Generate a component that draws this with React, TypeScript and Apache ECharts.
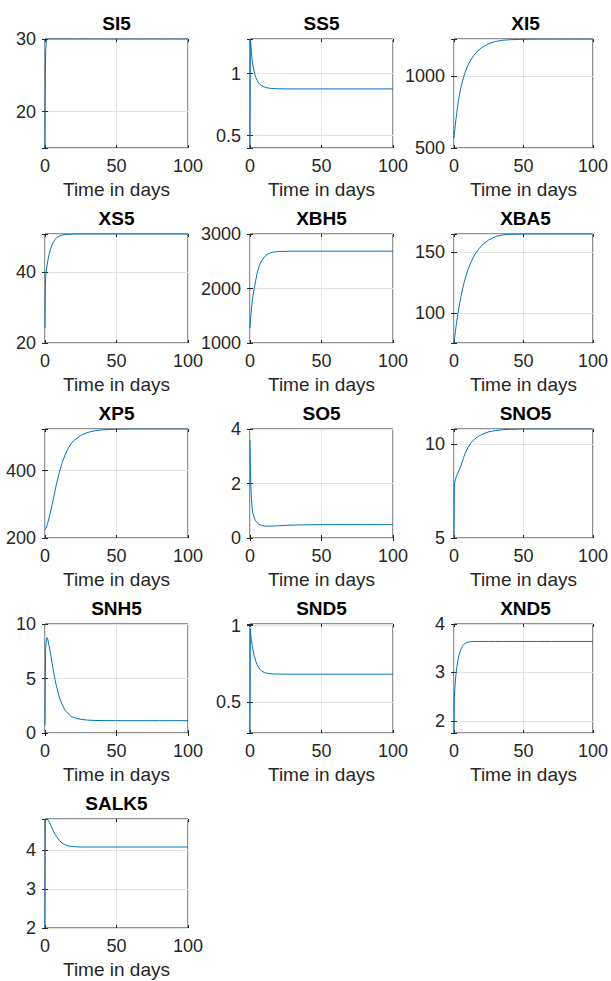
import React, { useEffect, useRef } from 'react';
import * as echarts from 'echarts';

// Simulation output sampled at these times (days)
const timeDays = [0, 0.25, 0.5, 1, 1.5, 2, 3, 4, 5, 6, 7, 8, 10, 12, 14, 16, 18, 20, 25, 30, 35, 40, 50, 60, 70, 80, 90, 100];

const SI5 = [15, 25, 28.5, 29.7, 29.95, 30, 30, 30, 30, 30, 30, 30, 30, 30, 30, 30, 30, 30, 30, 30, 30, 30, 30, 30, 30, 30, 30, 30];
const SS5 = [0.4, 1.28, 1.25, 1.17, 1.11, 1.07, 1.01, 0.97, 0.945, 0.925, 0.913, 0.905, 0.893, 0.886, 0.882, 0.88, 0.879, 0.878, 0.877, 0.877, 0.877, 0.877, 0.877, 0.877, 0.877, 0.877, 0.877, 0.877];
const XI5 = [569, 595, 620, 665, 705, 745, 815, 872, 920, 960, 995, 1025, 1075, 1110, 1140, 1163, 1182, 1198, 1225, 1240, 1248, 1252, 1255, 1256, 1256, 1256, 1256, 1256];
const XS5 = [24.2, 36.5, 38.8, 40.6, 42.0, 43.3, 45.2, 46.6, 47.7, 48.5, 49.1, 49.6, 50.1, 50.4, 50.55, 50.62, 50.66, 50.68, 50.7, 50.7, 50.7, 50.7, 50.7, 50.7, 50.7, 50.7, 50.7, 50.7];
const XBH5 = [1275, 1380, 1470, 1620, 1750, 1860, 2010, 2150, 2280, 2380, 2450, 2500, 2580, 2625, 2650, 2665, 2673, 2678, 2683, 2685, 2685, 2685, 2685, 2685, 2685, 2685, 2685, 2685];
const XBA5 = [75.4, 77.9, 80.2, 84.8, 89.1, 93.2, 100.7, 107.5, 113.5, 118.9, 123.7, 128.1, 135.4, 141.2, 145.9, 149.7, 152.7, 155.5, 160.0, 162.8, 164.0, 164.5, 164.75, 164.8, 164.8, 164.8, 164.8, 164.8];
const XP5 = [224.5, 226, 228, 233, 239, 246, 262, 280, 299, 319, 340, 359, 394, 423, 446, 464, 478, 488, 504, 513, 518, 520.5, 522.5, 523, 523, 523, 523, 523];
const SO5 = [3.6, 2.6, 2.0, 1.45, 1.1, 0.92, 0.73, 0.63, 0.56, 0.51, 0.48, 0.46, 0.44, 0.435, 0.435, 0.44, 0.445, 0.45, 0.465, 0.475, 0.48, 0.485, 0.49, 0.49, 0.49, 0.49, 0.49, 0.49];
const SNO5 = [5.0, 7.8, 7.95, 8.1, 8.22, 8.33, 8.5, 8.65, 8.85, 9.07, 9.3, 9.5, 9.8, 10.04, 10.2, 10.33, 10.43, 10.51, 10.65, 10.72, 10.76, 10.78, 10.8, 10.8, 10.8, 10.8, 10.8, 10.8];
const SNH5 = [0.75, 5.5, 7.8, 8.7, 8.75, 8.55, 7.9, 7.2, 6.4, 5.6, 4.9, 4.3, 3.3, 2.6, 2.1, 1.8, 1.55, 1.42, 1.25, 1.18, 1.15, 1.14, 1.13, 1.13, 1.13, 1.13, 1.13, 1.13];
const SND5 = [0.3, 0.98, 0.94, 0.9, 0.87, 0.845, 0.8, 0.768, 0.745, 0.728, 0.714, 0.705, 0.694, 0.689, 0.686, 0.685, 0.684, 0.684, 0.683, 0.683, 0.683, 0.683, 0.683, 0.683, 0.683, 0.683, 0.683, 0.683];
const XND5 = [1.75, 2.5, 2.62, 2.82, 2.98, 3.1, 3.28, 3.4, 3.48, 3.54, 3.58, 3.6, 3.625, 3.635, 3.64, 3.64, 3.64, 3.64, 3.64, 3.64, 3.64, 3.64, 3.64, 3.64, 3.64, 3.64, 3.64, 3.64];
const SALK5 = [2.0, 4.7, 4.78, 4.8, 4.8, 4.78, 4.72, 4.64, 4.56, 4.48, 4.41, 4.35, 4.25, 4.18, 4.14, 4.11, 4.1, 4.09, 4.08, 4.08, 4.08, 4.08, 4.08, 4.08, 4.08, 4.08, 4.08, 4.08];

const panelTitles = ['SI5', 'SS5', 'XI5', 'XS5', 'XBH5', 'XBA5', 'XP5', 'SO5', 'SNO5', 'SNH5', 'SND5', 'XND5', 'SALK5'];
const panelValues = [SI5, SS5, XI5, XS5, XBH5, XBA5, XP5, SO5, SNO5, SNH5, SND5, XND5, SALK5];
const yMin = [15, 0.4, 500, 20, 1000, 75.4, 200, 0, 5, 0, 0.3, 1.75, 2];
const yMax = [30, 1.28, 1257, 50.7, 3000, 164.8, 523, 4, 10.8, 10, 1.01, 4, 4.8];
const yStep = [10, 0.5, 500, 20, 1000, 50, 200, 2, 5, 5, 0.5, 1, 1];
const xMin = 0;
const xMax = 100;
const xStep = 50;
const xLabel = 'Time in days';

// subplot grid geometry (px)
const COL_LEFT = [45, 250, 454];
const ROW_TOP = [39, 234, 429, 624, 819];
const PLOT_W = 143;
const PLOT_H = 109;

const FONT = '"Liberation Sans", Arial, Helvetica, sans-serif';
const AXIS_COLOR = '#262626';
const GRID_COLOR = '#e3e3e3';
const LINE_COLOR = '#0072BD';

const fmt = (v: number) => String(parseFloat(v.toFixed(6)));
const onStep = (v: number, step: number) => {
  const r = v / step;
  return Math.abs(r - Math.round(r)) < 1e-6;
};

export default function App() {
  const ref = useRef<HTMLDivElement>(null);

  useEffect(() => {
    if (!ref.current) return;
    const chart = echarts.init(ref.current, undefined, { renderer: 'svg' });

    const grids: any[] = [];
    const xAxes: any[] = [];
    const yAxes: any[] = [];
    const series: any[] = [];
    const graphics: any[] = [];

    panelTitles.forEach((title, i) => {
      const left = COL_LEFT[i % 3];
      const top = ROW_TOP[Math.floor(i / 3)];
      grids.push({
        left,
        top,
        width: PLOT_W,
        height: PLOT_H,
        show: true,
        borderColor: AXIS_COLOR,
        borderWidth: 1,
        backgroundColor: '#fff',
      });

      const tickStyle = { show: true, inside: true, length: 3, lineStyle: { color: AXIS_COLOR, width: 1 } };

      // bottom x axis with labels and name
      xAxes.push({
        type: 'value',
        gridIndex: i,
        min: xMin,
        max: xMax,
        interval: xStep,
        position: 'bottom',
        axisLine: { show: false },
        axisTick: tickStyle,
        splitLine: { show: true, lineStyle: { color: GRID_COLOR, width: 1 } },
        axisLabel: { color: AXIS_COLOR, fontSize: 18, fontFamily: FONT, margin: 9, formatter: (v: number) => fmt(v) },
        name: xLabel,
        nameLocation: 'middle',
        nameGap: 32,
        nameTextStyle: { color: AXIS_COLOR, fontSize: 19, fontFamily: FONT },
      });
      // top x axis: ticks only
      xAxes.push({
        type: 'value',
        gridIndex: i,
        min: xMin,
        max: xMax,
        interval: xStep,
        position: 'top',
        axisLine: { show: false },
        axisTick: tickStyle,
        splitLine: { show: false },
        axisLabel: { show: false },
      });

      const step = yStep[i];
      yAxes.push({
        type: 'value',
        gridIndex: i,
        min: yMin[i],
        max: yMax[i],
        minInterval: step,
        maxInterval: step,
        position: 'left',
        axisLine: { show: false },
        axisTick: tickStyle,
        splitLine: { show: true, lineStyle: { color: GRID_COLOR, width: 1 } },
        axisLabel: {
          color: AXIS_COLOR,
          fontSize: 18,
          fontFamily: FONT,
          margin: 9,
          showMinLabel: true,
          showMaxLabel: true,
          formatter: (v: number) => (onStep(v, step) ? fmt(v) : ''),
        },
      });
      // right y axis: ticks only
      yAxes.push({
        type: 'value',
        gridIndex: i,
        min: yMin[i],
        max: yMax[i],
        minInterval: step,
        maxInterval: step,
        position: 'right',
        axisLine: { show: false },
        axisTick: tickStyle,
        splitLine: { show: false },
        axisLabel: { show: false },
      });

      series.push({
        type: 'line',
        name: title,
        xAxisIndex: 2 * i,
        yAxisIndex: 2 * i,
        data: timeDays.map((t, k) => [t, panelValues[i][k]]),
        showSymbol: false,
        symbol: 'none',
        lineStyle: { color: LINE_COLOR, width: 1 },
        z: 5,
      });

      graphics.push({
        type: 'text',
        x: left + PLOT_W / 2,
        y: top - 16,
        style: {
          text: title,
          fill: '#000',
          font: `bold 19px ${FONT}`,
          align: 'center',
          verticalAlign: 'middle',
        },
      });
    });

    chart.setOption({
      animation: false,
      backgroundColor: '#fff',
      grid: grids,
      xAxis: xAxes,
      yAxis: yAxes,
      series,
      graphic: graphics,
    });

    return () => chart.dispose();
  }, []);

  return (
    <div
      ref={ref}
      style={{ position: 'absolute', left: 0, top: 0, width: 611, height: 981 }}
    />
  );
}
